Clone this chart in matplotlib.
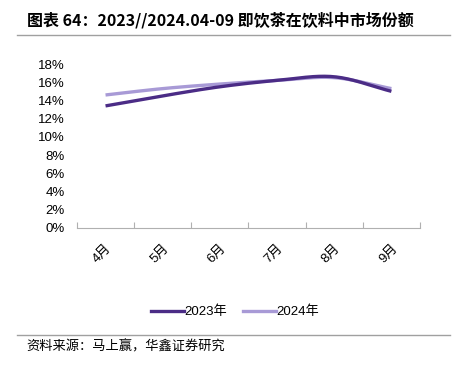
import matplotlib.pyplot as plt
import numpy as np
from matplotlib.lines import Line2D

plt.rcParams['font.family'] = ['Liberation Sans', 'Noto Sans CJK SC', 'DejaVu Sans']

months = ['4月', '5月', '6月', '7月', '8月', '9月']
share_2023 = [13.4, 14.5, 15.5, 16.2, 16.6, 15.0]
share_2024 = [14.6, 15.3, 15.8, 16.2, 16.5, 15.3]
yticks = [0, 2, 4, 6, 8, 10, 12, 14, 16, 18]

c2023 = '#4b2c86'
c2024 = '#a89ad6'


def smooth(y, n=30):
    # catmull-rom style curve through the points, like the excel "smoothed line"
    y = np.asarray(y, dtype=float)
    x = np.arange(len(y), dtype=float)
    p = np.concatenate([[2 * y[0] - y[1]], y, [2 * y[-1] - y[-2]]])
    xs, ys = [], []
    for i in range(len(y) - 1):
        p0, p1, p2, p3 = p[i], p[i + 1], p[i + 2], p[i + 3]
        t = np.linspace(0, 1, n, endpoint=False)
        seg = 0.5 * ((2 * p1) + (-p0 + p2) * t + (2 * p0 - 5 * p1 + 4 * p2 - p3) * t ** 2
                     + (-p0 + 3 * p1 - 3 * p2 + p3) * t ** 3)
        xs.append(x[i] + t)
        ys.append(seg)
    xs.append([x[-1]])
    ys.append([y[-1]])
    return np.concatenate(xs), np.concatenate(ys)


fig = plt.figure(figsize=(4.58, 3.7), dpi=100)
ax = fig.add_axes([0.168, 0.384, 0.749, 0.443])

x1, y1 = smooth(share_2023)
x2, y2 = smooth(share_2024)
ax.plot(x1, y1, color=c2023, lw=2.4, solid_capstyle='butt', zorder=3)
ax.plot(x2, y2, color=c2024, lw=2.4, solid_capstyle='butt', zorder=2)

ax.set_xlim(-0.5, len(months) - 0.5)
ax.set_ylim(0, 18)
ax.set_yticks(yticks)
ax.set_yticklabels([f'{v}%' for v in yticks], fontsize=9.5)

ax.set_xticks(np.arange(-0.5, len(months)), labels=[])
ax.set_xticks(np.arange(len(months)), labels=months, minor=True)
ax.tick_params(axis='x', which='major', length=4, color='#b0b0b0', width=0.8, direction='in')
ax.tick_params(axis='x', which='minor', length=0, pad=10)
for lab in ax.get_xticklabels(minor=True):
    lab.set_rotation(45)
    lab.set_ha('right')
    lab.set_va('top')
    lab.set_rotation_mode('anchor')
    lab.set_fontsize(9.5)
    lab.set_x(lab.get_position()[0])
ax.tick_params(axis='y', length=0, pad=9)

for s in ['top', 'right', 'left']:
    ax.spines[s].set_visible(False)
ax.spines['bottom'].set_color('#b0b0b0')
ax.spines['bottom'].set_linewidth(0.8)

handles = [Line2D([], [], color=c2023, lw=2.4), Line2D([], [], color=c2024, lw=2.4)]
fig.legend(handles, ['2023年', '2024年'], loc='center', bbox_to_anchor=(0.513, 0.157),
           ncols=2, frameon=False, fontsize=9.5, handlelength=2.5, handletextpad=0.05,
           columnspacing=1.2)

fig.text(0.058, 0.945, '图表 64：2023//2024.04-09 即饮茶在饮料中市场份额', fontsize=11.5,
         fontweight='bold', va='center', ha='left', family=['Noto Sans CJK SC', 'DejaVu Sans'])
fig.add_artist(Line2D([0.037, 0.983], [0.905, 0.905], color='#a0a0a0', lw=1.0))
fig.add_artist(Line2D([0.037, 0.983], [0.095, 0.095], color='#a0a0a0', lw=1.0))
fig.text(0.058, 0.063, '资料来源：马上赢，华鑫证券研究', fontsize=9.5, va='center', ha='left',
         family=['Noto Sans CJK SC', 'DejaVu Sans'])

fig.savefig('out.png', dpi=100)
